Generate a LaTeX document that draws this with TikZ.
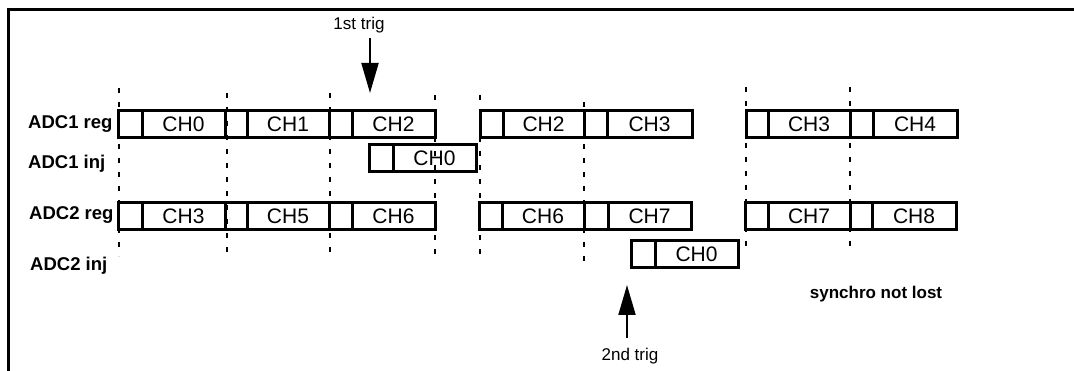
\documentclass[tikz,border=0pt]{standalone}
\usepackage{fontspec}
\setmainfont{Liberation Sans}
\usetikzlibrary{arrows.meta}
\tikzset{
  slot/.style={draw, line width=3pt, inner sep=0pt, outer sep=0pt, anchor=north west,
    minimum height=27pt, font=\fontsize{21}{24}\selectfont},
  rowlabel/.style={anchor=west, inner sep=0pt, font=\fontsize{18.5}{22}\selectfont\bfseries},
  triglabel/.style={inner sep=0pt, font=\fontsize{17}{20}\selectfont},
  guide/.style={line width=2pt, dash pattern=on 5pt off 9pt},
  trigarrow/.style={line width=2pt, -{Triangle[length=30pt,width=17pt]}},
  frameline/.style={line width=3pt}
}
\newcommand{\slotpair}[6]{% name, x0, x1, x2, ytop, text
  \node[slot, minimum width=#3pt-#2pt] (#1s) at (#2,#5) {};
  \node[slot, minimum width=#4pt-#3pt] (#1b) at (#3,#5) {#6};
}
\begin{document}
\begin{tikzpicture}[x=1pt,y=-1pt]
\useasboundingbox (0,0) rectangle (1074,371);
% frame
\coordinate (fbl) at (8,371);
\coordinate (ftl) at (8,10);
\coordinate (ftr) at (1074,10);
\draw[frameline] (fbl) -- (ftl) -- (ftr);

% guide lines
\foreach \gx/\gt/\gb [count=\i] in {119/88/256, 227/93/258, 330/93/258, 435/95/262, 480/95/260, 584/102/266, 746/87/254, 850/87/252}{
  \coordinate (g\i t) at (\gx,\gt);
  \coordinate (g\i b) at (\gx,\gb);
  \draw[guide] (g\i t) -- (g\i b);
}

% row labels
\node[rowlabel] (l1) at (28,124) {ADC1 reg};
\node[rowlabel] (l2) at (28,164) {ADC1 inj};
\node[rowlabel] (l3) at (29,215) {ADC2 reg};
\node[rowlabel] (l4) at (30,266) {ADC2 inj};

% ADC1 reg
\slotpair{r1a}{118}{142}{225}{111}{CH0}
\slotpair{r1b}{225}{247}{329}{111}{CH1}
\slotpair{r1c}{329}{352}{435}{111}{CH2}
\slotpair{r1d}{480}{503}{584}{111}{CH2}
\slotpair{r1e}{584}{607}{692}{111}{CH3}
\slotpair{r1f}{746}{768}{850}{111}{CH3}
\slotpair{r1g}{850}{873}{957}{111}{CH4}

% ADC1 inj
\slotpair{i1a}{369}{393}{476}{145}{CH0}

% ADC2 reg
\slotpair{r2a}{118}{142}{225}{203}{CH3}
\slotpair{r2b}{225}{247}{329}{203}{CH5}
\slotpair{r2c}{329}{352}{435}{203}{CH6}
\slotpair{r2d}{479}{502}{584}{203}{CH6}
\slotpair{r2e}{584}{608}{691}{203}{CH7}
\slotpair{r2f}{745}{768}{850}{203}{CH7}
\slotpair{r2g}{850}{872}{956}{203}{CH8}

% ADC2 inj
\slotpair{i2a}{631}{655}{738}{241}{CH0}

% triggers
\node[triglabel] (t1) at (359,25) {1st trig};
\coordinate (t1tip) at (370,93);
\draw[trigarrow] (t1tip |- t1.south) ++(0,5) -- (t1tip);

\node[triglabel] (t2) at (630,356) {2nd trig};
\coordinate (t2tip) at (627,285);
\draw[trigarrow] (t2tip |- t2.north) ++(0,-10) -- (t2tip);

\node[triglabel, font=\fontsize{17}{20}\selectfont\bfseries] (sync) at (876,294) {synchro not lost};
\end{tikzpicture}
\end{document}
